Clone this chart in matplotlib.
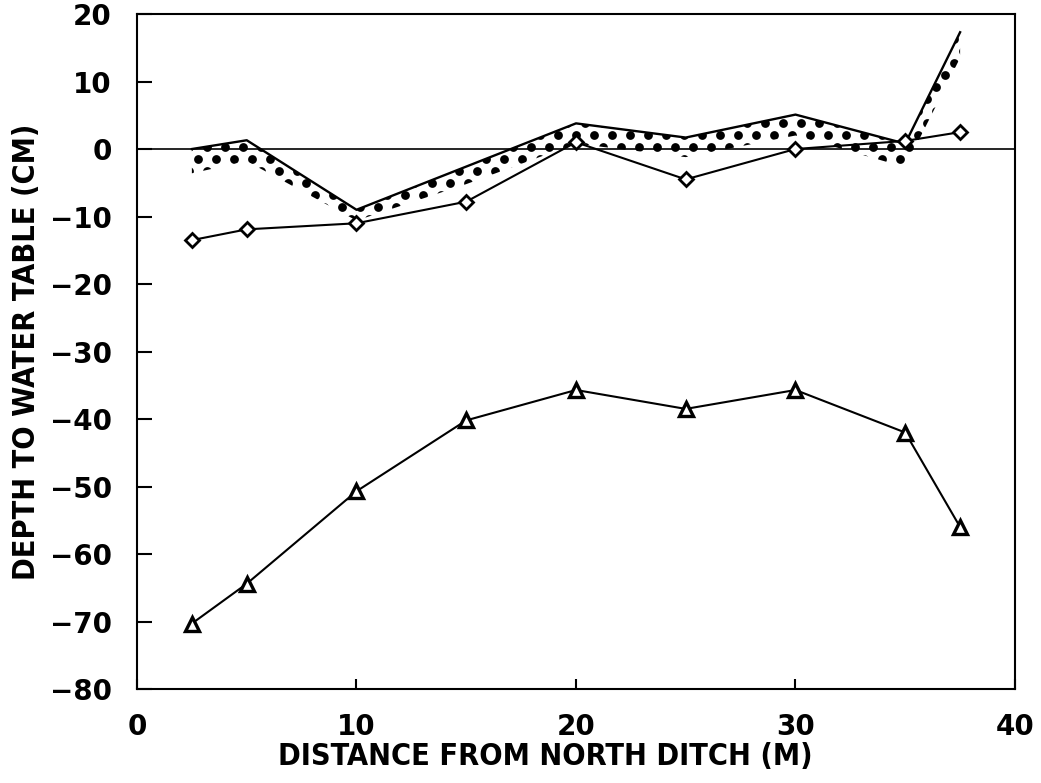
import matplotlib
matplotlib.use('Agg')
import matplotlib.pyplot as plt
import matplotlib.font_manager as fm
from matplotlib.transforms import IdentityTransform
import numpy as np

# distance from north ditch (m)
distance = [2.5, 5, 10, 15, 20, 25, 30, 35, 37.5]

# depth to water table (cm)
triangle_depth = [-70.3, -64.4, -50.7, -40.2, -35.7, -38.5, -35.7, -42.0, -56.0]
diamond_depth = [-13.5, -11.9, -11.0, -7.8, 1.0, -4.5, 0.0, 1.2, 2.5]
band_top = [0.0, 1.3, -9.0, -2.6, 3.8, 1.7, 5.1, 0.8, 17.3]
band_bottom = [-3.6, -1.8, -10.6, -5.2, 0.8, -1.2, 2.0, -2.7, 13.5]

xticks = [0, 10, 20, 30, 40]
yticks = [20, 10, 0, -10, -20, -30, -40, -50, -60, -70, -80]

plt.rcParams['axes.linewidth'] = 1.5

# look for a narrow bold sans for the axis titles
narrow = None
for f in fm.fontManager.ttflist:
    nm = (f.name + ' ' + str(f.stretch) + ' ' + f.fname).lower()
    if ('narrow' in nm or 'condensed' in nm) and f.weight in (700, 'bold') \
            and 'mono' not in nm and 'serif' not in nm.replace('sans', ''):
        narrow = f.fname
        break
if narrow:
    label_font = fm.FontProperties(fname=narrow, size=22)
else:
    label_font = fm.FontProperties(family='DejaVu Sans', weight='bold', size=19)

fig = plt.figure(figsize=(10.41, 7.83), dpi=100)
ax = fig.add_axes([0.1316, 0.12, 0.8434, 0.8621])
ax.set_xlim(0, 40)
ax.set_ylim(-80, 20)

# stippled band: a dot texture clipped to the band outline
band = ax.fill_between(distance, band_bottom, band_top, facecolor='none',
                       edgecolor='none')
W, H = fig.get_size_inches() * fig.dpi
px, py = [], []
for i, yy in enumerate(np.arange(0, H, 12)):
    shift = 9 if i % 2 else 0
    for xx in np.arange(shift, W, 18):
        px.append(xx)
        py.append(yy)
dots = ax.scatter(px, py, s=40, color='black', linewidths=0,
                  transform=IdentityTransform())
dots.set_clip_path(band.get_paths()[0], ax.transData)

ax.plot(distance, band_top, color='black', linewidth=1.7)

ax.axhline(0, color='black', linewidth=1.2)

ax.plot(distance, diamond_depth, color='black', linewidth=1.5, marker='D',
        markersize=7.5, markerfacecolor='white', markeredgecolor='black',
        markeredgewidth=2)
ax.plot(distance, triangle_depth, color='black', linewidth=1.5, marker='^',
        markersize=10.5, markerfacecolor='white', markeredgecolor='black',
        markeredgewidth=2.4)

ax.set_xlim(0, 40)
ax.set_ylim(-80, 20)
ax.set_xticks(xticks)
ax.set_yticks(yticks)

tick_font = {'family': 'DejaVu Sans', 'weight': 'bold', 'size': 20}
ax.set_xticklabels([str(t) for t in xticks], fontdict=tick_font)
ax.set_yticklabels([str(t).replace('-', '\u2212') for t in yticks], fontdict=tick_font)
ax.tick_params(axis='y', direction='in', length=11, width=1.5, pad=18)
ax.tick_params(axis='x', direction='in', length=7, width=1.5, pad=17)

ax.set_xlabel('DISTANCE FROM NORTH DITCH (M)', fontproperties=label_font)
ax.xaxis.set_label_coords(0.465, -0.078, transform=ax.transAxes)
ax.xaxis.label.set_va('top')
ax.set_ylabel('DEPTH TO WATER TABLE (CM)', fontproperties=label_font)
ax.yaxis.set_label_coords(-0.126, 0.5, transform=ax.transAxes)
ax.yaxis.label.set_va('center')

fig.savefig('out.png', dpi=100)
